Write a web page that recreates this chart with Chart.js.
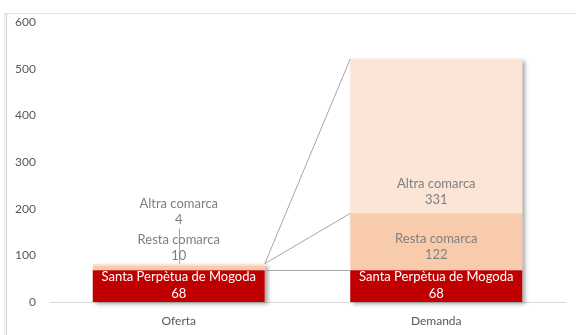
<!DOCTYPE html>
<html>
<head>
<meta charset="utf-8">
<script src="https://cdn.jsdelivr.net/npm/chart.js@4/dist/chart.umd.min.js"></script>
<style>
  html, body { margin: 0; padding: 0; background: #fff; }
  #wrap { position: relative; width: 576px; height: 335px; }
</style>
</head>
<body>
<div id="wrap"><canvas id="chart" width="576" height="335"></canvas></div>
<script>
// Data
const categories = ['Oferta', 'Demanda'];
const seriesNames = ['Santa Perpètua de Mogoda', 'Resta comarca', 'Altra comarca'];
const santaValues = [68, 68];
const restaValues = [10, 122];
const altraValues = [4, 331];
const yTicks = [0, 100, 200, 300, 400, 500, 600];

const colors = ['#C00000', '#F8CBAD', '#FBE5D6'];
const labelColors = ['#ffffff', '#7f7f7f', '#7f7f7f'];
const FONT = 'Lato, "Open Sans", sans-serif';

// frame around the chart and drop shadow behind each stacked bar
const framePlugin = {
    id: 'frame',
    beforeDraw(chart) {
        const ctx = chart.ctx;
        ctx.save();
        ctx.strokeStyle = '#e3e3e3';
        ctx.lineWidth = 1;
        ctx.strokeRect(4.5, 13.5, 700, 400);
        ctx.strokeStyle = '#d0d0d0';
        ctx.beginPath();
        ctx.moveTo(6.5, 14);
        ctx.lineTo(6.5, 335);
        ctx.stroke();
        ctx.restore();
    },
    beforeDatasetsDraw(chart) {
        const ctx = chart.ctx;
        const bottom = chart.getDatasetMeta(0);
        const top = chart.getDatasetMeta(2);
        ctx.save();
        ctx.shadowColor = 'rgba(0,0,0,0.35)';
        ctx.shadowBlur = 4;
        ctx.shadowOffsetX = 3;
        ctx.shadowOffsetY = 2;
        ctx.fillStyle = '#ffffff';
        bottom.data.forEach((el, i) => {
            const t = top.data[i];
            ctx.fillRect(el.x - el.width / 2, t.y, el.width, el.base - t.y);
        });
        ctx.restore();
    }
};

// connector lines from Oferta bar to Demanda bar plus data labels
const labelsPlugin = {
    id: 'labels',
    afterDatasetsDraw(chart) {
        const ctx = chart.ctx;
        const m0 = chart.getDatasetMeta(0).data;
        const m1 = chart.getDatasetMeta(1).data;
        const m2 = chart.getDatasetMeta(2).data;
        const ofRight = m0[0].x + m0[0].width / 2;
        const ofTop = m2[0].y;
        const deLeft = m0[1].x - m0[1].width / 2;

        ctx.save();
        ctx.strokeStyle = '#a6a6a6';
        ctx.lineWidth = 1;
        ctx.beginPath();
        ctx.moveTo(ofRight, ofTop);
        ctx.lineTo(deLeft, m2[1].y);
        ctx.moveTo(ofRight, ofTop);
        ctx.lineTo(deLeft, m1[1].y);
        ctx.moveTo(ofRight, Math.round(m0[0].y) + 0.5);
        ctx.lineTo(deLeft, Math.round(m0[1].y) + 0.5);
        // leader line for the small Oferta labels
        ctx.moveTo(Math.round(m0[0].x) + 0.5, ofTop - 35);
        ctx.lineTo(Math.round(m0[0].x) + 0.5, ofTop);
        ctx.stroke();

        ctx.font = '13px ' + FONT;
        ctx.textAlign = 'center';
        ctx.textBaseline = 'middle';
        const values = [santaValues, restaValues, altraValues];
        const metas = [m0, m1, m2];

        function drawPair(s, i, y1, y2) {
            const x = metas[s][i].x;
            ctx.fillStyle = labelColors[s];
            ctx.fillText(seriesNames[s], x, y1);
            ctx.fillText(String(values[s][i]), x, y2);
        }

        // Santa Perpètua labels, near the bottom of the red segment
        for (let i = 0; i < 2; i++) {
            drawPair(0, i, m0[i].base - 25, m0[i].base - 8);
        }
        // Oferta: small segments, labels above the bar
        drawPair(1, 0, ofTop - 24, ofTop - 8);
        drawPair(2, 0, ofTop - 60, ofTop - 44);
        // Demanda: labels inside segments
        drawPair(1, 1, m1[1].base - 31, m1[1].base - 15);
        drawPair(2, 1, m2[1].base - 30, m2[1].base - 14);
        ctx.restore();
    }
};

const datasets = [santaValues, restaValues, altraValues].map((vals, s) => ({
    label: seriesNames[s],
    data: vals,
    backgroundColor: colors[s],
    borderWidth: 0,
    stack: 'a',
    categoryPercentage: 1,
    barPercentage: 0.668
}));

new Chart(document.getElementById('chart'), {
    type: 'bar',
    data: { labels: categories, datasets: datasets },
    plugins: [framePlugin, labelsPlugin],
    options: {
        responsive: false,
        animation: false,
        layout: { padding: { top: 22, right: 11, left: 0, bottom: 0 } },
        plugins: { legend: { display: false }, tooltip: { enabled: false } },
        scales: {
            x: {
                stacked: true,
                grid: { display: false, drawTicks: false },
                border: { display: true, color: '#d9d9d9', width: 1 },
                ticks: { color: '#595959', font: { family: FONT, size: 12 }, padding: 12 },
                afterFit(scale) { scale.height = 33; }
            },
            y: {
                stacked: true,
                min: 0,
                max: 600,
                afterBuildTicks(scale) { scale.ticks = yTicks.map(v => ({ value: v })); },
                grid: { display: false, drawTicks: false },
                border: { display: false },
                ticks: { color: '#595959', font: { family: FONT, size: 12 }, padding: 14 },
                afterFit(scale) { scale.height; scale.width = 50; }
            }
        }
    }
});
</script>
</body>
</html>
